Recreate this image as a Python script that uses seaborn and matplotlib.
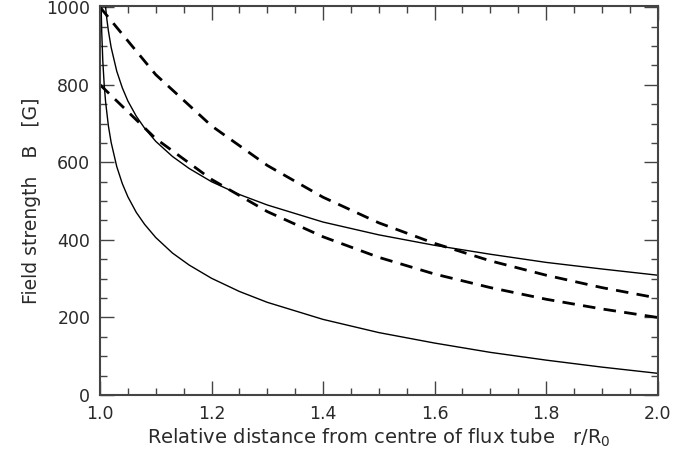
import numpy as np
import pandas as pd
import seaborn as sns
import matplotlib
matplotlib.use("Agg")
import matplotlib.pyplot as plt
from matplotlib.ticker import MultipleLocator

# Values
r_solid = [1.002, 1.003, 1.005, 1.0075, 1.010, 1.015, 1.020, 1.030, 1.040, 1.050,
           1.065, 1.080, 1.100, 1.130, 1.160, 1.200, 1.250, 1.300, 1.400, 1.500,
           1.600, 1.700, 1.800, 1.900, 2.000]
b_lower_solid = [1003, 939, 861, 800, 756, 694, 651, 589, 545, 511,
                 471, 440, 406, 366, 335, 301, 267, 239, 195, 161,
                 134, 110, 90, 72, 56]

r_upper_solid = [1.0098, 1.012, 1.015, 1.020, 1.030, 1.040, 1.050, 1.065, 1.080, 1.100,
                 1.130, 1.160, 1.200, 1.250, 1.300, 1.400, 1.500, 1.600, 1.700, 1.800,
                 1.900, 2.000]
b_upper_solid = [1003, 972, 939, 896, 835, 792, 758, 719, 688, 654,
                 615, 584, 550, 517, 490, 446, 413, 386, 363, 342,
                 325, 309]

r_dashed = [1.0, 1.1, 1.2, 1.3, 1.4, 1.5, 1.6, 1.7, 1.8, 1.9, 2.0]
b_upper_dashed = [1000, 826, 694, 592, 510, 444, 391, 346, 309, 277, 250]
b_lower_dashed = [800, 661, 556, 473, 408, 355, 312, 277, 247, 222, 200]

x_ticks = [1.0, 1.2, 1.4, 1.6, 1.8, 2.0]
y_ticks = [0, 200, 400, 600, 800, 1000]

sns.set_style("ticks")
plt.rcParams['font.family'] = ['DejaVu Sans']

fig = plt.figure(figsize=(6.86, 4.53), dpi=100)
ax = fig.add_axes([0.1458, 0.128, 0.8127, 0.8587])

fg = "#2a2a2a"
curves = [
    (r_solid, b_lower_solid, "-", 1.0),
    (r_upper_solid, b_upper_solid, "-", 1.0),
    (r_dashed, b_upper_dashed, (0, (4.5, 3)), 2.0),
    (r_dashed, b_lower_dashed, (0, (4.5, 3)), 2.0),
]
for r, b, ls, lw in curves:
    df = pd.DataFrame({"r": r, "B": b})
    sns.lineplot(data=df, x="r", y="B", ax=ax, color="black", linewidth=lw,
                 linestyle=ls, sort=False, estimator=None)

ax.set_xlim(1.0, 2.0)
ax.set_ylim(0, 1003)
ax.set_xticks(x_ticks)
ax.set_xticklabels([f"{t:.1f}" for t in x_ticks])
ax.set_yticks(y_ticks)
ax.xaxis.set_minor_locator(MultipleLocator(0.05))
ax.yaxis.set_minor_locator(MultipleLocator(50))
ax.tick_params(which="both", direction="in", top=True, right=True, color="#444444",
               labelcolor=fg, labelsize=12.5, width=1.0, pad=7)
ax.tick_params(which="major", length=10)
ax.tick_params(which="minor", length=5)
for s in ax.spines.values():
    s.set_linewidth(1.5)
    s.set_color("#444444")

ax.set_xlabel(r"Relative distance from centre of flux tube   r/R$_0$",
              fontsize=14, color=fg, labelpad=3)
ax.set_ylabel("Field strength   B   [G]", fontsize=13.5, color=fg, labelpad=4)

fig.savefig("out.png", dpi=100)
